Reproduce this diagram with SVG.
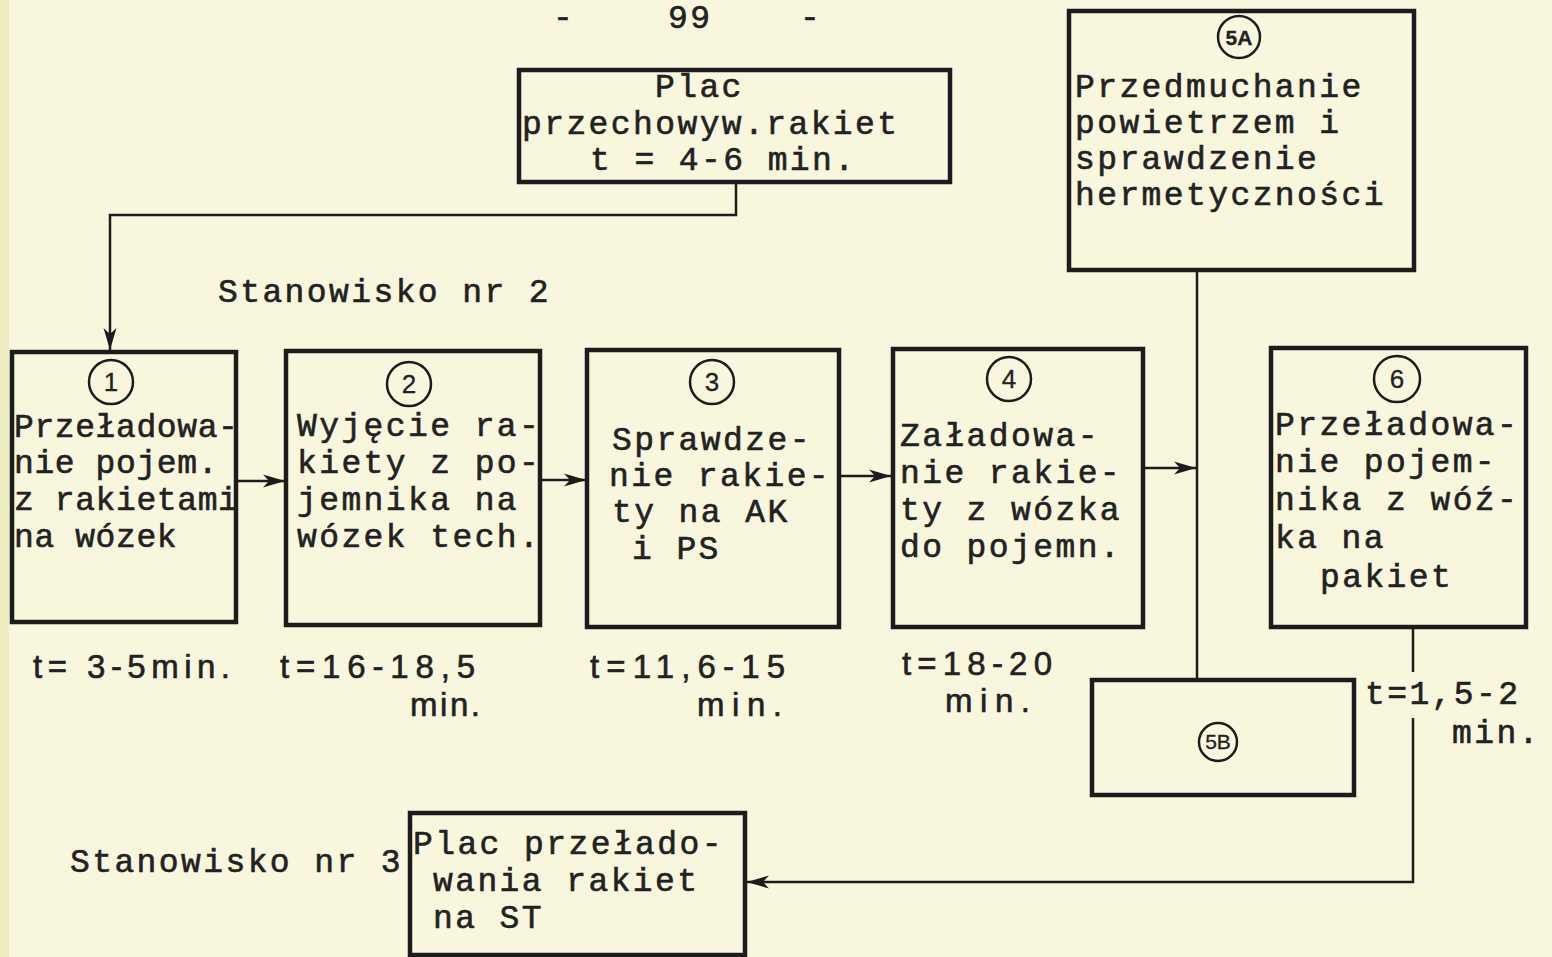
<svg xmlns="http://www.w3.org/2000/svg" width="1552" height="957" viewBox="0 0 1552 957">
<defs>
<marker id="ah" markerUnits="userSpaceOnUse" markerWidth="24" markerHeight="16" refX="22" refY="8" orient="auto">
<path d="M0,1.5 L22,8 L0,14.5 L6,8 z" fill="#1c1c1c"/>
</marker>
<style>
.bg{fill:#f8f7de}
.box{fill:none;stroke:#1c1c1c;stroke-width:4.5}
.num{fill:none;stroke:#1c1c1c;stroke-width:2.5}
.ln{fill:none;stroke:#1c1c1c;stroke-width:2.5}
text{font-family:"Liberation Mono","DejaVu Sans Mono",monospace;font-size:33px;fill:#222;stroke:#222;stroke-width:0.6;letter-spacing:2.4px}
.tight{letter-spacing:0.6px}
.n{font-family:"Liberation Sans","DejaVu Sans",sans-serif;font-size:26px;text-anchor:middle;letter-spacing:0;stroke-width:0.3}
.ns{font-size:21px}
.t{font-family:"Liberation Sans Narrow","Liberation Sans",sans-serif;font-size:33px;letter-spacing:0}
</style>
</defs>
<rect class="bg" x="0" y="0" width="1552" height="957"/>
<rect x="0" y="0" width="9" height="957" fill="#eeedc2"/>

<g id="page-number">
<text x="553" y="28">-</text>
<text x="668" y="28" letter-spacing="5">99</text>
<text x="800" y="28">-</text>
</g>

<g id="connectors">
<polyline class="ln" points="736,182 736,215 110,215 110,350" marker-end="url(#ah)"/>
<line class="ln" x1="236" y1="481" x2="285" y2="481" marker-end="url(#ah)"/>
<line class="ln" x1="540" y1="480" x2="586" y2="480" marker-end="url(#ah)"/>
<line class="ln" x1="840" y1="476" x2="891" y2="476" marker-end="url(#ah)"/>
<line class="ln" x1="1144" y1="468" x2="1196" y2="468" marker-end="url(#ah)"/>
<line class="ln" x1="1197" y1="271" x2="1197" y2="680"/>
<line class="ln" x1="1413" y1="627" x2="1413" y2="672"/>
<polyline class="ln" points="1413,718 1413,882 747,882" marker-end="url(#ah)"/>
</g>

<g id="node-plac-przechowywania">
<rect class="box" x="519" y="70" width="431" height="112"/>
<text x="655" y="97">Plac</text>
<text x="522" y="134">przechowyw.rakiet</text>
<text x="590" y="170">t = 4-6 min.</text>
</g>

<g id="node-5A">
<rect class="box" x="1069" y="11" width="345" height="259"/>
<circle class="num" cx="1239" cy="37" r="21"/>
<text class="n ns" x="1239" y="45" font-weight="bold">5A</text>
<text x="1075" y="97">Przedmuchanie</text>
<text x="1075" y="133">powietrzem i</text>
<text x="1075" y="169">sprawdzenie</text>
<text x="1075" y="205">hermetyczności</text>
</g>

<g id="label-stanowisko-2">
<text x="218" y="302">Stanowisko nr 2</text>
</g>

<g id="node-1">
<rect class="box" x="12" y="352" width="224" height="270"/>
<circle class="num" cx="111" cy="382" r="22"/>
<text class="n" x="111" y="391">1</text>
<text class="tight" x="14" y="437">Przeładowa-</text>
<text class="tight" x="14" y="473">nie pojem.</text>
<text class="tight" x="14" y="510">z rakietami</text>
<text class="tight" x="14" y="547">na wózek</text>
</g>

<g id="node-2">
<rect class="box" x="286" y="351" width="254" height="274"/>
<circle class="num" cx="409" cy="384" r="22"/>
<text class="n" x="409" y="393">2</text>
<text x="297" y="436">Wyjęcie ra-</text>
<text x="297" y="473">kiety z po-</text>
<text x="297" y="510">jemnika na</text>
<text x="297" y="547">wózek tech.</text>
</g>

<g id="node-3">
<rect class="box" x="587" y="350" width="252" height="277"/>
<circle class="num" cx="712" cy="382" r="22"/>
<text class="n" x="712" y="391">3</text>
<text x="612" y="450">Sprawdze-</text>
<text x="609" y="486">nie rakie-</text>
<text x="612" y="522">ty na AK</text>
<text x="632" y="559">i PS</text>
</g>

<g id="node-4">
<rect class="box" x="893" y="349" width="250" height="278"/>
<circle class="num" cx="1009" cy="379" r="22"/>
<text class="n" x="1009" y="388">4</text>
<text x="900" y="446">Załadowa-</text>
<text x="900" y="483">nie rakie-</text>
<text x="900" y="520">ty z wózka</text>
<text x="900" y="557">do pojemn.</text>
</g>

<g id="node-6">
<rect class="box" x="1271" y="348" width="255" height="279"/>
<circle class="num" cx="1397" cy="379" r="23"/>
<text class="n" x="1397" y="388">6</text>
<text x="1275" y="435">Przeładowa-</text>
<text x="1275" y="472">nie pojem-</text>
<text x="1275" y="510">nika z wóź-</text>
<text x="1275" y="548">ka na</text>
<text x="1320" y="587">pakiet</text>
</g>

<g id="node-5B">
<rect class="box" x="1092" y="680" width="262" height="115"/>
<circle class="num" cx="1218" cy="742" r="19"/>
<text class="n ns" x="1218" y="749">5B</text>
</g>

<g id="time-labels">
<text class="t" x="33" y="678" textLength="197" lengthAdjust="spacing">t= 3-5min.</text>
<text class="t" x="280" y="678" textLength="195" lengthAdjust="spacing">t=16-18,5</text>
<text class="t" x="410" y="716" textLength="70" lengthAdjust="spacing">min.</text>
<text class="t" x="590" y="678" textLength="195" lengthAdjust="spacing">t=11,6-15</text>
<text class="t" x="697" y="716" textLength="85" lengthAdjust="spacing">min.</text>
<text class="t" x="902" y="675" textLength="150" lengthAdjust="spacing">t=18-20</text>
<text class="t" x="945" y="712" textLength="85" lengthAdjust="spacing">min.</text>
<text x="1365" y="704">t=1,5-2</text>
<text x="1452" y="743">min.</text>
</g>

<g id="label-stanowisko-3">
<text x="70" y="872">Stanowisko nr 3</text>
</g>

<g id="node-plac-przeladowania">
<rect class="box" x="410" y="813" width="335" height="142"/>
<text x="413" y="854">Plac przełado-</text>
<text x="433" y="891">wania rakiet</text>
<text x="433" y="928">na ST</text>
</g>
</svg>
